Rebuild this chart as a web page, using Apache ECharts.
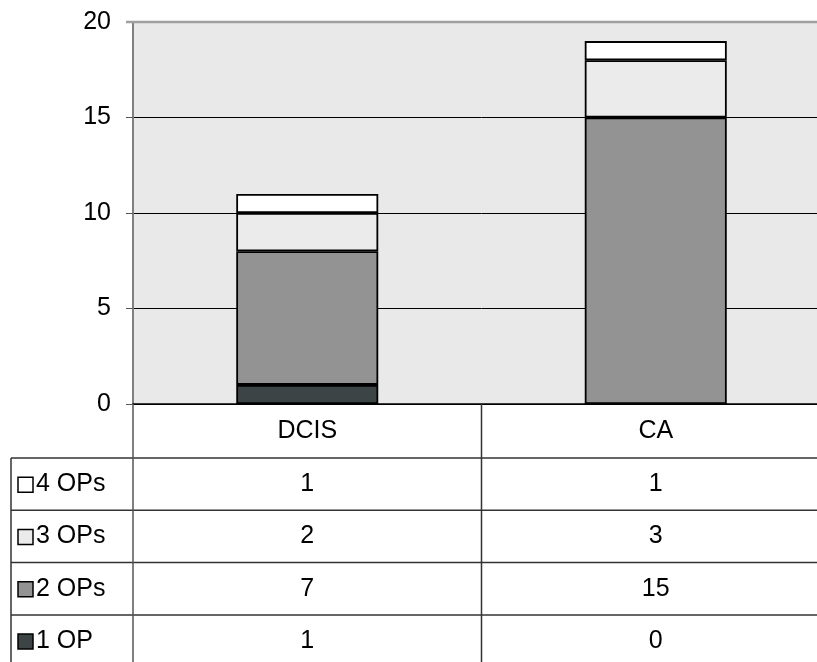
<!DOCTYPE html>
<html>
<head>
<meta charset="utf-8">
<title>OPs DCIS / CA</title>
<script src="https://cdn.jsdelivr.net/npm/echarts@6/dist/echarts.min.js"></script>
<style>
  html, body { margin: 0; padding: 0; background: #ffffff; overflow: hidden; }
  /* the plot area runs a little past the right edge of the window */
  #chart { width: 830px; height: 662px; }
</style>
</head>
<body>
<div id="chart"></div>
<script>
// Categories and stacked series (bottom to top)
const categories = ['DCIS', 'CA'];
const seriesNames = ['1 OP', '2 OPs', '3 OPs', '4 OPs'];
const op1 = [1, 0];
const op2 = [7, 15];
const op3 = [2, 3];
const op4 = [1, 1];
const yTicks = [0, 5, 10, 15, 20];

const seriesValues = [op1, op2, op3, op4];
const fills = ['#3d4446', '#939393', '#ebebeb', '#ffffff'];
const FONT = '"Liberation Sans", Arial, sans-serif';
const FS = 25;

const chart = echarts.init(document.getElementById('chart'), null, { renderer: 'canvas' });

const grid = { left: 133, top: 22, right: 0, height: 382 };

chart.setOption({
  animation: false,
  backgroundColor: '#ffffff',
  grid: Object.assign({ show: true, backgroundColor: '#e9e9e9', borderWidth: 0 }, grid),
  xAxis: {
    type: 'category',
    data: categories,
    axisLine: { show: true, lineStyle: { color: '#000000', width: 1.5 } },
    axisTick: { show: false },
    axisLabel: { show: false },
    splitLine: { show: false }
  },
  yAxis: {
    type: 'value',
    min: yTicks[0],
    max: yTicks[yTicks.length - 1],
    interval: 5,
    axisLine: { show: true, lineStyle: { color: '#808080', width: 2 } },
    axisTick: { show: true, length: 7, lineStyle: { color: '#555555', width: 1 } },
    axisLabel: { color: '#000000', fontSize: FS, fontFamily: FONT, margin: 22 },
    splitLine: {
      show: true,
      lineStyle: { color: ['#000000', '#000000', '#000000', '#000000', '#a0a0a0'], width: 1 }
    }
  },
  series: seriesNames.map((name, i) => ({
    name: name,
    type: 'bar',
    stack: 'ops',
    data: seriesValues[i],
    barWidth: 142,
    itemStyle: { color: fills[i], borderColor: '#000000', borderWidth: 1.8 }
  }))
});

// Data table beneath the plot
const colX = categories.map(c => chart.convertToPixel({ xAxisIndex: 0 }, c));
const yZero = chart.convertToPixel({ yAxisIndex: 0 }, 0);
const yTop = chart.convertToPixel({ yAxisIndex: 0 }, yTicks[yTicks.length - 1]);
const plotLeft = grid.left;
const tableLeft = 11;
const headerH = 54;
const rowH = 52.3;
const W = 830, H = 662;
const midX = (colX[0] + colX[1]) / 2;
const lineColor = '#333333';

const graphics = [];
function hline(y, x1, x2, color, w) {
  graphics.push({ type: 'line', shape: { x1: x1, y1: y, x2: x2, y2: y },
    style: { stroke: color || lineColor, lineWidth: w || 1.5 }, z: 10 });
}
function vline(x, y1, y2, color) {
  graphics.push({ type: 'line', shape: { x1: x, y1: y1, x2: x, y2: y2 },
    style: { stroke: color || lineColor, lineWidth: 1.5 }, z: 10 });
}
function text(str, x, y, align) {
  graphics.push({ type: 'text', x: x, y: y,
    style: { text: str, fill: '#000000', font: FS + 'px ' + FONT, align: align || 'center', verticalAlign: 'middle' }, z: 11 });
}

// gray frame line along the top of the plot
hline(yTop, plotLeft - 7, W, '#a0a0a0', 2.5);

// header row with category names
categories.forEach((c, i) => text(c, colX[i], yZero + headerH / 2));

// body rows: top row is the top of the stack
const rowOrder = [3, 2, 1, 0];
rowOrder.forEach((si, r) => {
  const top = yZero + headerH + r * rowH;
  hline(top, tableLeft, W);
  const cy = top + rowH / 2;
  graphics.push({ type: 'rect', shape: { x: 18, y: cy - 7, width: 15, height: 15 },
    style: { fill: fills[si], stroke: '#000000', lineWidth: 1.5 }, z: 11 });
  text(seriesNames[si], 36, cy, 'left');
  seriesValues[si].forEach((v, ci) => text(String(v), colX[ci], cy));
});

vline(plotLeft, yZero, H, '#555555');
vline(midX, yZero, H);
vline(tableLeft, yZero + headerH, H);

chart.setOption({ graphic: graphics });
</script>
</body>
</html>
